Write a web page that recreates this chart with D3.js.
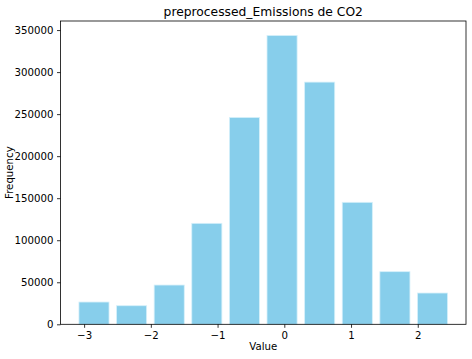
<!DOCTYPE html>
<html>
<head>
<meta charset="utf-8">
<script src="https://cdn.jsdelivr.net/npm/d3@7"></script>
<style>
  html, body { margin: 0; padding: 0; background: #fff; }
  svg { display: block; font-family: "DejaVu Sans", sans-serif; }
</style>
</head>
<body>
<svg id="chart" width="472" height="359"></svg>
<script>
// Histogram bin edges (start, end) and counts
const binStart = -3.134;
const binEnd = 2.503;
const counts = [26500, 22100, 46700, 120100, 246100, 343600, 288100, 145100, 62600, 37200];
const xTicks = [-3, -2, -1, 0, 1, 2];
const yTicks = [0, 50000, 100000, 150000, 200000, 250000, 300000, 350000];
const title = "preprocessed_Emissions de CO2";
const xLabel = "Value";
const yLabel = "Frequency";

(function () {
const svg = d3.select("#chart");
const mLeft = 60.5, mRight = 466, mTop = 21, mBottom = 324.3;

const nBins = counts.length;
const bw = (binEnd - binStart) / nBins;
const bins = counts.map((c, i) => ({
  x0: binStart + i * bw + 0.1 * bw,
  x1: binStart + (i + 1) * bw - 0.1 * bw,
  c
}));
const dataMin = bins[0].x0, dataMax = bins[nBins - 1].x1;
const pad = (dataMax - dataMin) * 0.05;

const x = d3.scaleLinear().domain([dataMin - pad, dataMax + pad]).range([mLeft, mRight]);
const y = d3.scaleLinear().domain([0, d3.max(counts) * 1.05]).range([mBottom, mTop]);

svg.append("g").selectAll("rect").data(bins).join("rect")
  .attr("x", d => x(d.x0))
  .attr("width", d => x(d.x1) - x(d.x0))
  .attr("y", d => y(d.c))
  .attr("height", d => y(0) - y(d.c))
  .attr("fill", "#87CEEB")
  .attr("stroke", "#d6f0fa")
  .attr("stroke-width", 0.8);

const fmtX = d => (d < 0 ? "\u2212" + Math.abs(d) : String(d));

const xAxis = svg.append("g")
  .attr("transform", `translate(0,${mBottom})`)
  .call(d3.axisBottom(x).tickValues(xTicks).tickFormat(fmtX).tickSize(3.5).tickPadding(3.5).tickSizeOuter(0));
const yAxis = svg.append("g")
  .attr("transform", `translate(${mLeft},0)`)
  .call(d3.axisLeft(y).tickValues(yTicks).tickFormat(d => String(d)).tickSize(3.5).tickPadding(3.5).tickSizeOuter(0));

[xAxis, yAxis].forEach(a => {
  a.select(".domain").remove();
  a.selectAll("line").attr("stroke", "#000").attr("stroke-width", 0.8);
  a.selectAll("text").attr("font-family", "DejaVu Sans, sans-serif").attr("font-size", 10.2).attr("fill", "#000");
});

svg.append("rect")
  .attr("x", mLeft).attr("y", mTop)
  .attr("width", mRight - mLeft).attr("height", mBottom - mTop)
  .attr("fill", "none").attr("stroke", "#000").attr("stroke-width", 0.8);

svg.append("text")
  .attr("x", (mLeft + mRight) / 2).attr("y", 15.5)
  .attr("text-anchor", "middle")
  .attr("font-size", 12.3).attr("fill", "#000")
  .text(title);

svg.append("text")
  .attr("x", (mLeft + mRight) / 2).attr("y", 350)
  .attr("text-anchor", "middle")
  .attr("font-size", 10.2).attr("fill", "#000")
  .text(xLabel);

svg.append("text")
  .attr("transform", `translate(13,${(mTop + mBottom) / 2}) rotate(-90)`)
  .attr("text-anchor", "middle")
  .attr("font-size", 10.2).attr("fill", "#000")
  .text(yLabel);
})();
</script>
</body>
</html>
